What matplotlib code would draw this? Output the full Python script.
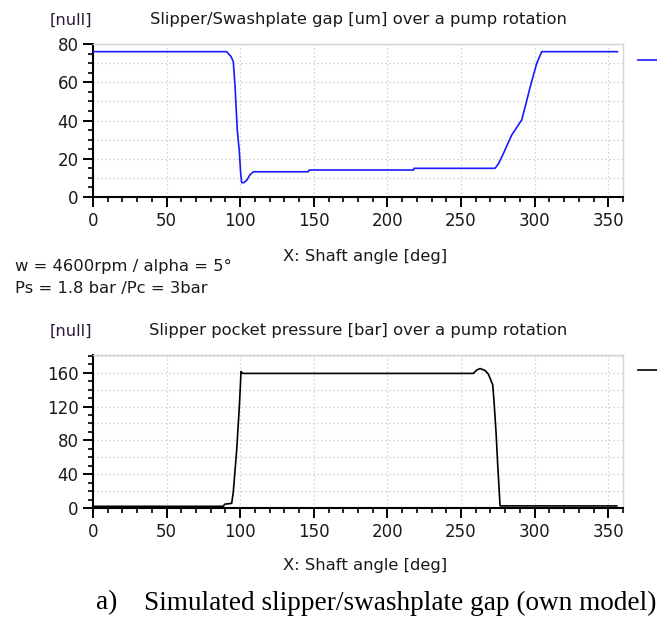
import matplotlib
matplotlib.use('Agg')
import matplotlib.pyplot as plt
from matplotlib.ticker import MultipleLocator

# gap curve [um] vs shaft angle [deg]
gap_angle = [0, 90.8, 93.8, 95.3, 96.5, 98.0, 99.4, 100.3, 101.0, 102.5, 104.5,
             106.5, 108.9, 146.3, 146.8, 217.6, 218.1, 273.1, 275.5, 278.8,
             284.4, 291.2, 294.0, 297.0, 301.4, 304.8, 356.2]
gap_value = [76.0, 76.0, 73.4, 70.7, 57.7, 35.0, 23.7, 12.4, 7.5, 7.5, 8.8,
             11.5, 13.2, 13.2, 14.1, 14.1, 15.0, 15.0, 17.5, 22.8,
             32.4, 40.3, 48.5, 57.7, 69.9, 76.0, 76.0]

# pocket pressure [bar] vs shaft angle [deg]
p_angle = [0, 88.5, 89.5, 94.2, 95.3, 97.6, 99.4, 100.3, 100.5, 101.7, 258.4,
           260.5, 262.9, 266.3, 268.3, 269.7, 271.5, 272.4, 273.8, 274.9,
           276.5, 355.8]
p_value = [2.0, 2.0, 4.5, 5.5, 19.0, 68.7, 120.0, 151.7, 161.5, 159.2, 159.2,
           163.0, 165.0, 162.7, 159.0, 153.7, 145.8, 126.0, 88.5, 51.0,
           2.5, 2.4]

x_ticks = [0, 50, 100, 150, 200, 250, 300, 350]
gap_title = 'Slipper/Swashplate gap [um] over a pump rotation'
p_title = 'Slipper pocket pressure [bar] over a pump rotation'

plt.rcParams['font.family'] = 'DejaVu Sans'
txt = '#1a1a1a'
fs = 11.8

fig = plt.figure(figsize=(6.57, 6.21), dpi=100)
ax1 = fig.add_axes([93 / 657, 1 - 197 / 621, 530 / 657, 153 / 621])
ax2 = fig.add_axes([93 / 657, 1 - 508 / 621, 530 / 657, 153 / 621])


def style(ax, ymax, ymajor, yminor, ygrid):
    ax.set_xlim(0, 360)
    ax.set_ylim(0, ymax)
    ax.set_xticks(x_ticks)
    ax.xaxis.set_minor_locator(MultipleLocator(10))
    ax.yaxis.set_major_locator(MultipleLocator(ymajor))
    ax.yaxis.set_minor_locator(MultipleLocator(yminor))
    for s in ['top', 'right']:
        ax.spines[s].set_color('#d4d4d4')
        ax.spines[s].set_linewidth(1.0)
    for s in ['left', 'bottom']:
        ax.spines[s].set_color('black')
        ax.spines[s].set_linewidth(1.5)
    ax.tick_params(which='major', length=7.5, width=1.4, direction='out',
                   labelsize=12, labelcolor=txt, pad=3)
    ax.tick_params(which='minor', length=3.5, width=1.2, direction='out')
    # dotted grid: vertical at majors, horizontal at ygrid spacing
    for xv in x_ticks[1:]:
        ax.axvline(xv, color='#c8c8c8', lw=0.9, ls=(0, (1, 2.2)), zorder=0)
    y = ygrid
    while y < ymax:
        ax.axhline(y, color='#c8c8c8', lw=0.9, ls=(0, (1, 2.2)), zorder=0)
        y += ygrid
    ax.text(-0.041, 1.157, '[null]', transform=ax.transAxes, ha='center',
            va='center', fontsize=fs, color='#2a1a3a')


style(ax1, 80, 20, 5, 10)
style(ax2, 181, 40, 10, 20)

l1, = ax1.plot(gap_angle, gap_value, color='#1a1aff', lw=1.2, zorder=3)
l2, = ax2.plot(p_angle, p_value, color='black', lw=1.2, zorder=3)

ax1.text(0.5, 1.157, gap_title, transform=ax1.transAxes, ha='center',
         va='center', fontsize=fs, color=txt)
ax2.text(0.5, 1.157, p_title, transform=ax2.transAxes, ha='center',
         va='center', fontsize=fs, color=txt)
ax1.text(0.513, -0.386, 'X: Shaft angle [deg]', transform=ax1.transAxes,
         ha='center', va='center', fontsize=fs, color=txt)
ax2.text(0.513, -0.373, 'X: Shaft angle [deg]', transform=ax2.transAxes,
         ha='center', va='center', fontsize=fs, color=txt)

for ax, ln, yy in [(ax1, l1, 0.889), (ax2, l2, 0.895)]:
    ax.legend([ln], [''], loc='center left', bbox_to_anchor=(1.028, yy),
              frameon=False, borderpad=0, borderaxespad=0, handlelength=1.4,
              handletextpad=0, fontsize=10)

fig.text(15 / 657, 1 - 266 / 621, 'w = 4600rpm / alpha = 5°', ha='left',
         va='center', fontsize=fs, color=txt)
fig.text(15 / 657, 1 - 288 / 621, 'Ps = 1.8 bar /Pc = 3bar', ha='left',
         va='center', fontsize=fs, color=txt)

fig.text(96 / 657, 1 - 603 / 621, 'a)', ha='left', va='center',
         fontsize=19.6, family='Liberation Serif', color='black')
fig.text(144 / 657, 1 - 603 / 621,
         'Simulated slipper/swashplate gap (own model)', ha='left',
         va='center', fontsize=19.6, family='Liberation Serif', color='black')

fig.savefig('out.png', dpi=100)
